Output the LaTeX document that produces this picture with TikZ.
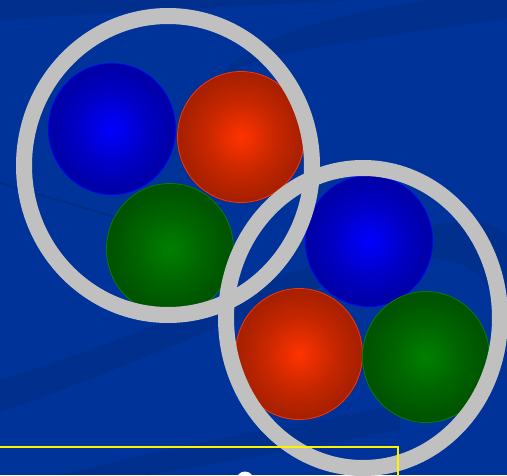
\documentclass[tikz,border=0pt]{standalone}
\definecolor{slidebg}{RGB}{0,51,153}
\definecolor{ringgray}{RGB}{192,192,192}
\definecolor{bluehi}{RGB}{0,0,255}
\definecolor{bluelo}{RGB}{0,0,110}
\definecolor{redhi}{RGB}{255,51,0}
\definecolor{redlo}{RGB}{112,20,0}
\definecolor{greenhi}{RGB}{0,128,0}
\definecolor{greenlo}{RGB}{0,54,0}
\pgfdeclareradialshading{blueball}{\pgfpoint{0bp}{0bp}}{color(0bp)=(bluehi); color(14bp)=(bluehi!60!bluelo); color(34bp)=(bluehi!18!bluelo); color(50bp)=(bluelo); color(72bp)=(bluelo)}
\pgfdeclareradialshading{redball}{\pgfpoint{0bp}{0bp}}{color(0bp)=(redhi); color(14bp)=(redhi!60!redlo); color(34bp)=(redhi!18!redlo); color(50bp)=(redlo); color(72bp)=(redlo)}
\pgfdeclareradialshading{greenball}{\pgfpoint{0bp}{0bp}}{color(0bp)=(greenhi); color(14bp)=(greenhi!60!greenlo); color(34bp)=(greenhi!18!greenlo); color(50bp)=(greenlo); color(72bp)=(greenlo)}
\begin{document}
\begin{tikzpicture}[x=1pt,y=-1pt,
  swoosh/.style={fill=black,opacity=0.08},
  ball/.style={x radius=63.5pt,y radius=65.5pt},
  ring/.style={draw=ringgray,line width=16pt}]
  \useasboundingbox (0,0) rectangle (507,475);
  \clip (0,0) rectangle (507,475);
  % background and its darker swooshes
  \fill[slidebg] (0,0) rectangle (507,475);
  \fill[swoosh] (0,0) -- (0,20) .. controls (150,10) and (280,4) .. (360,0) -- cycle;
  \fill[swoosh] (212,92) .. controls (225,55) and (330,45) .. (507,18)
    -- (507,0) -- (430,0) .. controls (330,15) and (230,40) .. (212,92) -- cycle;
  \fill[swoosh] (0,380) .. controls (120,345) and (300,262) .. (430,226)
    .. controls (480,214) and (507,228) .. (507,240) -- (507,330)
    .. controls (492,282) and (470,258) .. (430,258)
    .. controls (330,270) and (150,362) .. (0,412) -- cycle;
  \fill[swoosh] (60,475) .. controls (200,440) and (320,420) .. (400,405)
    -- (400,430) .. controls (300,450) and (200,465) .. (150,475) -- cycle;
  \draw[black,opacity=0.1,line width=2pt] (0,183) -- (115,217);
  % first group
  \shade[shading=blueball] (112,129) ellipse [ball];
  \draw[bluehi,line width=0.8pt] (112,129) ellipse [ball];
  \shade[shading=redball] (241,137) ellipse [ball];
  \draw[redhi,line width=0.8pt] (241,137) ellipse [ball];
  \shade[shading=greenball] (170,249) ellipse [ball];
  \draw[greenhi,line width=0.8pt] (170,249) ellipse [ball];
  % second group
  \shade[shading=blueball] (369,241) ellipse [ball];
  \draw[bluehi,line width=0.8pt] (369,241) ellipse [ball];
  \shade[shading=redball] (299,354) ellipse [ball];
  \draw[redhi,line width=0.8pt] (299,354) ellipse [ball];
  \shade[shading=greenball] (426,357) ellipse [ball];
  \draw[greenhi,line width=0.8pt] (426,357) ellipse [ball];
  % rings
  \draw[ring] (168,165.5) ellipse [x radius=144pt,y radius=149.5pt];
  \draw[ring] (363,318) ellipse [x radius=137pt,y radius=150pt];
  % frame line and bullet
  \draw[yellow,line width=2pt] (0,447) -- (398,447) -- (398,480);
  \fill[white] (245,480) ellipse [x radius=8.5pt,y radius=8.5pt];
\end{tikzpicture}
\end{document}
